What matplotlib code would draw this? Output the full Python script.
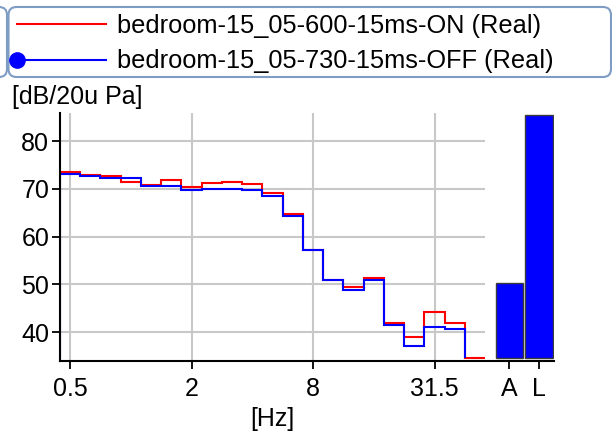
import numpy as np
import matplotlib.pyplot as plt
from matplotlib.lines import Line2D
from matplotlib.patches import FancyBboxPatch
from matplotlib.legend_handler import HandlerLine2D


# third-octave band centres [Hz]
freqs = [0.5, 0.63, 0.8, 1, 1.25, 1.6, 2, 2.5, 3.15, 4, 5, 6.3, 8, 10, 12.5,
         16, 20, 25, 31.5, 40, 50]
tick_freqs = [0.5, 2, 8, 31.5]

on_db = [73.6, 73.0, 72.8, 71.4, 70.8, 71.8, 70.3, 71.3, 71.4, 71.1, 69.1,
         64.7, 57.3, 50.9, 49.5, 51.3, 41.9, 39.1, 44.3, 41.9, 34.7]
# OFF run: 50 Hz band falls below the floor of the chart
off_db = [73.2, 72.6, 72.3, 72.3, 70.7, 70.6, 69.7, 69.9, 70.0, 69.7, 68.6,
          64.3, 57.3, 50.9, 48.9, 50.9, 41.5, 37.2, 41.2, 40.6]

bar_labels = ['A', 'L']
bar_db = [50.3, 85.5]
floor_db = 34.7

on_label = 'bedroom-15_05-600-15ms-ON (Real)'
off_label = 'bedroom-15_05-730-15ms-OFF (Real)'


class HandlerLeftMarker(HandlerLine2D):
    # marker sits at the left end of the legend line
    def create_artists(self, *args, **kwargs):
        artists = super().create_artists(*args, **kwargs)
        for a in artists:
            a.set_markevery([0])
        return artists


plt.rcParams['font.family'] = ['Liberation Sans', 'DejaVu Sans']
plt.rcParams['font.size'] = 18

W, H = 612, 434
fig = plt.figure(figsize=(W / 100, H / 100), dpi=100)
ax = fig.add_axes([60 / W, 1 - 360.7 / H, (554 - 60) / W, (360.7 - 112.7) / H])

n = len(freqs)
edges = np.arange(n + 1) - 0.5
grid_col = '#c8c8c8'

# grid only over the frequency part
yticks = [40, 50, 60, 70, 80]
ax.hlines(yticks, edges[0], edges[-1], color=grid_col, lw=1.5, zorder=1)
tick_pos = [freqs.index(f) for f in tick_freqs]
for p in tick_pos:
    ax.axvline(p, color=grid_col, lw=1.5, zorder=1)

ax.stairs(on_db, edges, color='#ff0000', lw=1.5, baseline=None, zorder=3)
ax.stairs(off_db, edges[:len(off_db) + 1], color='#0000ff', lw=1.5,
          baseline=floor_db, zorder=4)

# overall levels as bars
bar_x = [edges[-1] + 1.2 + 1.47 * k for k in range(len(bar_db))]
ax.bar(bar_x, np.array(bar_db) - floor_db, bottom=floor_db, width=1.36,
       color='#0000ff', edgecolor='#3c3c3c', lw=1.0, zorder=2)

ax.set_xlim(edges[0], 23.9)
ax.set_ylim(34.05, 85.95)
ax.set_xticks(tick_pos + bar_x)
ax.set_xticklabels([str(f) for f in tick_freqs] + bar_labels)
ax.set_yticks(yticks)
ax.tick_params(axis='x', length=6, width=1.3, pad=5.5)
ax.tick_params(axis='y', length=6, width=1.3, pad=1.7)

for s in ['top', 'right']:
    ax.spines[s].set_visible(False)
for s in ['left', 'bottom']:
    ax.spines[s].set_linewidth(1.5)
    ax.spines[s].set_zorder(5)

fig.text(12 / W, 1 - 97 / H, '[dB/20u Pa]', ha='left', va='center')
fig.text(272 / W, 1 - 419 / H, '[Hz]', ha='center', va='center')

# legend frame (plus the edge of a neighbouring box on the far left)
frame_col = '#7f9cc4'
for x0, x1 in [(-60, 7), (8.5, 611)]:
    fig.patches.append(FancyBboxPatch((x0, H - 77), x1 - x0, 70,
                                      boxstyle='round,pad=0,rounding_size=8',
                                      transform=None, fc='white', ec=frame_col,
                                      lw=1.5, zorder=0))

h_on = Line2D([], [], color='#ff0000', lw=1.5)
h_off = Line2D([], [], color='#0000ff', lw=1.5, marker='o', markersize=11)
fig.legend([h_on, h_off], [on_label, off_label], loc='upper left',
           bbox_to_anchor=(17 / W, 1 - 14 / H), frameon=False, borderpad=0,
           borderaxespad=0, fontsize=18.3, handlelength=3.5,
           handletextpad=0.45, labelspacing=0.45,
           handler_map={h_off: HandlerLeftMarker()})

plt.savefig('out.png', dpi=100)
